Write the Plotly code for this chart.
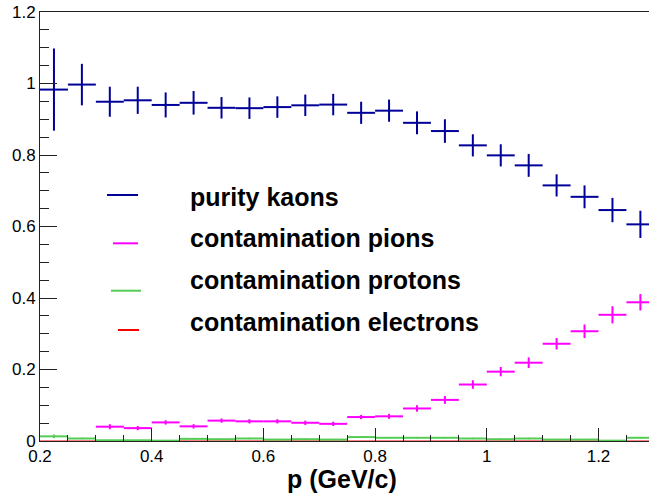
import plotly.graph_objects as go

# Momentum bins (GeV/c): 0.2 - 1.3 in steps of 0.05
bin_centers = [0.225, 0.275, 0.325, 0.375, 0.425, 0.475, 0.525, 0.575, 0.625, 0.675, 0.725,
               0.775, 0.825, 0.875, 0.925, 0.975, 1.025, 1.075, 1.125, 1.175, 1.225, 1.275]
bin_half_width = 0.025

kaon_purity = [0.983, 0.997, 0.949, 0.953, 0.940, 0.946, 0.932, 0.931, 0.934, 0.939, 0.941,
               0.918, 0.924, 0.890, 0.867, 0.827, 0.799, 0.771, 0.715, 0.683, 0.646, 0.606]
kaon_err = [0.115, 0.058, 0.042, 0.038, 0.035, 0.033, 0.030, 0.030, 0.030, 0.030, 0.030,
            0.031, 0.031, 0.032, 0.033, 0.031, 0.031, 0.032, 0.031, 0.032, 0.034, 0.038]

pion_contam = [None, None, 0.040, 0.036, 0.052, 0.041, 0.057, 0.055, 0.055, 0.051, 0.048,
               0.067, 0.069, 0.091, 0.115, 0.158, 0.194, 0.219, 0.272, 0.307, 0.353, 0.388]
pion_err = [0, 0, 0.007, 0.006, 0.006, 0.006, 0.006, 0.006, 0.006, 0.006, 0.006,
            0.006, 0.007, 0.009, 0.011, 0.012, 0.013, 0.015, 0.016, 0.019, 0.024, 0.023]

proton_contam = [0.013, 0.007, 0.002, 0.002, 0.001, 0.006, 0.005, 0.007, 0.004, 0.005, 0.004,
                 0.011, 0.009, 0.009, 0.009, 0.007, 0.005, 0.007, 0.004, 0.004, 0.001, 0.009]
proton_err = [0.005, 0.002, 0.001, 0.001, 0.001, 0.002, 0.002, 0.002, 0.002, 0.002, 0.002,
              0.002, 0.002, 0.002, 0.002, 0.002, 0.002, 0.002, 0.002, 0.002, 0.001, 0.002]

electron_contam = [0.0, 0.0, 0.0, 0.0, 0.0, 0.0, 0.0, 0.0, 0.0, 0.0, 0.0,
                   0.0, 0.0, 0.0, 0.0, 0.0, 0.0, 0.0, 0.0, 0.0, 0.0, 0.0]
electron_err = [0.0] * len(bin_centers)

legend_labels = ["purity kaons", "contamination pions",
                 "contamination protons", "contamination electrons"]
colors = ["#000099", "#ff00ff", "#55cc55", "#ff0000"]
thickness = [2, 2, 2, 1]

series = [
    (kaon_purity, kaon_err),
    (pion_contam, pion_err),
    (proton_contam, proton_err),
    (electron_contam, electron_err),
]

fig = go.Figure()
# draw contaminations first so the purity crosses sit on top
for idx in [3, 2, 1, 0]:
    vals, errs = series[idx]
    fig.add_trace(go.Scatter(
        x=bin_centers, y=vals, mode="markers",
        marker=dict(size=1, color=colors[idx], opacity=0),
        error_x=dict(type="constant", value=bin_half_width, width=0,
                     thickness=thickness[idx], color=colors[idx]),
        error_y=dict(type="data", array=errs, width=0,
                     thickness=thickness[idx], color=colors[idx]),
        showlegend=False, name=legend_labels[idx],
    ))

# Plot area geometry in pixels (used to place the legend box)
W, H = 649, 494
L, R, T, B = 40, 0, 12, 53
pw, ph = W - L - R, H - T - B


def px(x):
    return (x - L) / pw


def py(y):
    return (H - B - y) / ph


# Legend: short colour line plus bold label for each histogram
swatches = [(107, 138, 195), (113, 138, 243.3), (111, 141, 290.7), (118, 139, 330)]
text_y = [197.5, 238, 280, 322]
for i, label in enumerate(legend_labels):
    x0, x1, y0 = swatches[i]
    fig.add_shape(type="line", xref="paper", yref="paper",
                  x0=px(x0), x1=px(x1), y0=py(y0), y1=py(y0),
                  line=dict(color=colors[i], width=2))
    fig.add_annotation(xref="paper", yref="paper", x=px(188), y=py(text_y[i]),
                       xanchor="left", yanchor="middle", showarrow=False,
                       text=f"<b>{label}</b>",
                       font=dict(family="Liberation Sans", size=25, color="black"))

# x-axis title, centred under the axis
fig.add_annotation(xref="paper", yref="paper", x=px(342), y=py(479),
                   xanchor="center", yanchor="middle", showarrow=False,
                   text="<b>p (GeV/c)</b>",
                   font=dict(family="Liberation Sans", size=25, color="black"))

fig.update_layout(
    width=W, height=H,
    margin=dict(l=L, r=R, t=T, b=B, pad=0),
    paper_bgcolor="white", plot_bgcolor="white",
    font=dict(family="Liberation Sans", size=17, color="black"),
    showlegend=False,
)

fig.update_xaxes(
    range=[0.2, 0.2 + pw / 558.5 * 0.2 * 5 / 1],
    tickmode="array", tickvals=[0.2, 0.4, 0.6, 0.8, 1.0, 1.2],
    ticktext=["0.2", "0.4", "0.6", "0.8", "1", "1.2"],
    ticks="inside", ticklen=13, tickwidth=1, tickcolor="#222",
    minor=dict(ticks="inside", ticklen=6, dtick=0.05, tick0=0.2, tickcolor="#222"),
    showline=True, linecolor="#222", linewidth=1, mirror=True,
    showgrid=False, zeroline=False,
)
fig.update_yaxes(
    range=[0, 1.2],
    tickmode="array", tickvals=[0, 0.2, 0.4, 0.6, 0.8, 1.0, 1.2],
    ticktext=["0", "0.2", "0.4", "0.6", "0.8", "1", "1.2"],
    ticks="inside", ticklen=17, tickwidth=1, tickcolor="#222",
    minor=dict(ticks="inside", ticklen=9, dtick=0.05, tick0=0, tickcolor="#222"),
    showline=True, linecolor="#222", linewidth=1,
    showgrid=False, zeroline=False,
)

fig.write_html("out.html")
